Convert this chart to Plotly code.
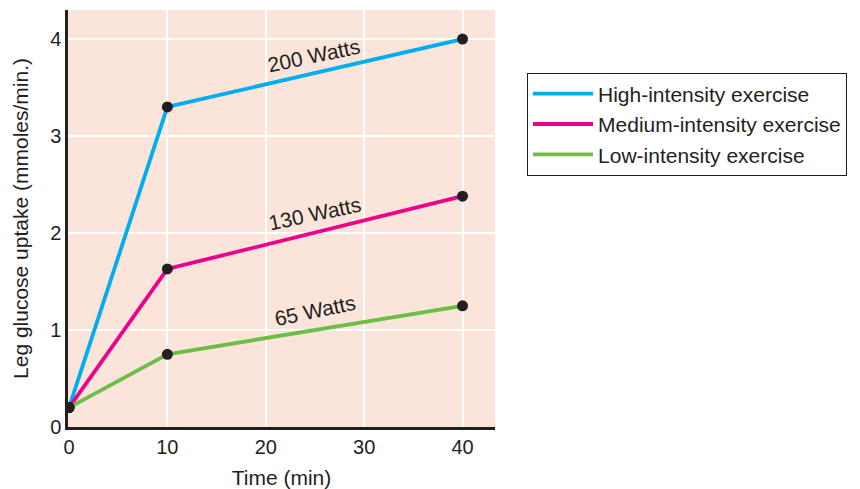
import plotly.graph_objects as go

time_min = [0, 10, 40]
high_intensity = [0.2, 3.3, 4.0]
medium_intensity = [0.2, 1.63, 2.38]
low_intensity = [0.2, 0.75, 1.25]
series_names = ["High-intensity exercise", "Medium-intensity exercise", "Low-intensity exercise"]
series_colors = ["#00AEEF", "#EC008C", "#6DBE45"]
label_texts = ["200 Watts", "130 Watts", "65 Watts"]
label_x = [24.9, 25.0, 25.0]
label_y = [3.83, 2.2, 1.2]
x_ticks = [0, 10, 20, 30, 40]
y_ticks = [0, 1, 2, 3, 4]

FONT = "Liberation Sans, Arial, sans-serif"
TXT = "#231f20"

fig = go.Figure()
for name, ys, col in zip(series_names, [high_intensity, medium_intensity, low_intensity], series_colors):
    fig.add_trace(go.Scatter(
        x=time_min, y=ys, name=name, mode="lines",
        line=dict(color=col, width=3.8),
    ))
for ys in [high_intensity, medium_intensity, low_intensity]:
    fig.add_trace(go.Scatter(
        x=time_min, y=ys, mode="markers", showlegend=False,
        marker=dict(color="#231f20", size=11),
    ))

for t, xx, yy in zip(label_texts, label_x, label_y):
    fig.add_annotation(x=xx, y=yy, text=t, showarrow=False, textangle=-12,
                       font=dict(family=FONT, size=21, color=TXT))

fig.update_layout(
    width=860, height=489,
    margin=dict(l=68, r=365, t=10, b=62, autoexpand=False),
    paper_bgcolor="white", plot_bgcolor="#FBE5DB",
    font=dict(family=FONT, size=21, color=TXT),
    showlegend=True,
    legend=dict(
        x=1.075, y=0.85, xanchor="left", yanchor="top",
        bordercolor="#231f20", borderwidth=1, bgcolor="white",
        font=dict(family=FONT, size=21, color=TXT),
        tracegroupgap=0, itemwidth=60,
    ),
    xaxis=dict(
        range=[-0.1, 43.3], tickvals=x_ticks, showgrid=True, gridcolor="white", gridwidth=2,
        showline=True, linecolor="#231f20", linewidth=2.5, zeroline=False,
        ticks="", tickfont=dict(size=20), automargin=False,
        title=dict(text="Time (min)", font=dict(size=21), standoff=14),
    ),
    yaxis=dict(
        range=[0, 4.3], tickvals=y_ticks, showgrid=True, gridcolor="white", gridwidth=2,
        showline=True, linecolor="#231f20", linewidth=2.5, zeroline=False,
        ticks="", tickfont=dict(size=20), automargin=False,
        title=dict(text="Leg glucose uptake (mmoles/min.)", font=dict(size=21), standoff=16),
    ),
)

fig.write_html("out.html", config={"displayModeBar": False},
               post_script="document.body.style.margin='0';")
